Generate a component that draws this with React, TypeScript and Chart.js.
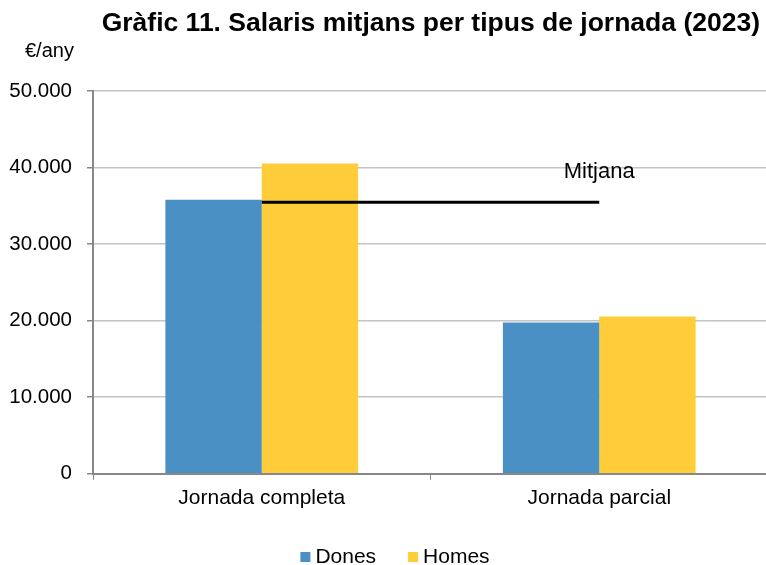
import React, { useEffect, useRef } from "react";
import { Chart, registerables } from "chart.js";

Chart.register(...registerables);

const categories = ["Jornada completa", "Jornada parcial"];
const seriesNames = ["Dones", "Homes"];
const dones = [35800, 19750];
const homes = [40530, 20530];
const mitjana = [35460, 35460];
const yTicks = [0, 10000, 20000, 30000, 40000, 50000];

const TITLE = "Gràfic 11. Salaris mitjans per tipus de jornada (2023)";
const UNIT = "€/any";
const MEAN_LABEL = "Mitjana";
const FONT = "'Liberation Sans', Arial, sans-serif";
const COLORS = ["#4A90C4", "#FFCD3A"];

const fmt = (v: number) => v.toLocaleString("de-DE");

const textPlugin = {
  id: "texts",
  afterDraw(chart: any) {
    const ctx = chart.ctx;
    ctx.save();
    ctx.fillStyle = "#000";
    ctx.textBaseline = "alphabetic";
    ctx.font = `bold 26.5px ${FONT}`;
    ctx.textAlign = "right";
    ctx.fillText(TITLE, 760, 31);
    ctx.font = `20px ${FONT}`;
    ctx.textAlign = "left";
    ctx.fillText(UNIT, 25, 57);
    // mean label
    const p = chart.getDatasetMeta(2).data[1];
    ctx.font = `22px ${FONT}`;
    ctx.textAlign = "center";
    ctx.fillText(MEAN_LABEL, p.x, chart.scales.y.getPixelForValue(mitjana[1]) - 24);
    // legend
    ctx.font = `21px ${FONT}`;
    ctx.textAlign = "left";
    const baseline = 563;
    const gapBoxText = 5;
    const gapItems = 32;
    const box = 10;
    const widths = seriesNames.map((n) => box + gapBoxText + ctx.measureText(n).width);
    const total = widths.reduce((a, b) => a + b, 0) + gapItems * (widths.length - 1);
    let x = 395 - total / 2;
    seriesNames.forEach((n, i) => {
      ctx.fillStyle = COLORS[i];
      ctx.fillRect(x, baseline - 11, box, box);
      ctx.fillStyle = "#000";
      ctx.fillText(n, x + box + gapBoxText, baseline);
      x += widths[i] + gapItems;
    });
    ctx.restore();
  },
};

export default function App() {
  const ref = useRef<HTMLCanvasElement>(null);
  useEffect(() => {
    document.body.style.margin = "0";
    const chart = new Chart(ref.current!, {
      type: "bar",
      data: {
        labels: categories,
        datasets: [
          { label: seriesNames[0], data: dones, backgroundColor: COLORS[0], order: 2 },
          { label: seriesNames[1], data: homes, backgroundColor: COLORS[1], order: 2 },
          {
            type: "line" as any,
            label: MEAN_LABEL,
            data: mitjana,
            borderColor: "#000",
            borderWidth: 3,
            pointRadius: 0,
            order: 1,
          } as any,
        ],
      },
      options: {
        animation: false,
        responsive: false,
        devicePixelRatio: 1,
        layout: { padding: { top: 91, left: 0, right: 0, bottom: 48 } },
        datasets: { bar: { categoryPercentage: 0.571, barPercentage: 1 } },
        scales: {
          x: {
            grid: {
              offset: true,
              drawOnChartArea: false,
              drawTicks: true,
              tickLength: 6,
              color: "#888",
            },
            border: { color: "#888", width: 2 },
            ticks: { color: "#000", font: { family: FONT, size: 21 }, padding: 6 },
          },
          y: {
            min: 0,
            max: 50000,
            afterFit(s: any) {
              s.width = 93;
            },
            afterBuildTicks(s: any) {
              s.ticks = yTicks.map((v) => ({ value: v }));
            },
            grid: { color: "#C4C4C4", lineWidth: 1.5, tickLength: 6, tickColor: "#888" },
            border: { color: "#888", width: 2 },
            ticks: {
              color: "#000",
              font: { family: FONT, size: 20.5 },
              padding: 15,
              callback: (v: any) => fmt(Number(v)),
            },
          },
        },
        plugins: {
          legend: { display: false },
          tooltip: { enabled: false },
        },
      },
      plugins: [textPlugin],
    });
    return () => chart.destroy();
  }, []);
  return (
    <div style={{ width: 766, height: 565, overflow: "hidden", background: "#fff" }}>
      <canvas ref={ref} width={768} height={565} style={{ display: "block" }} />
    </div>
  );
}
